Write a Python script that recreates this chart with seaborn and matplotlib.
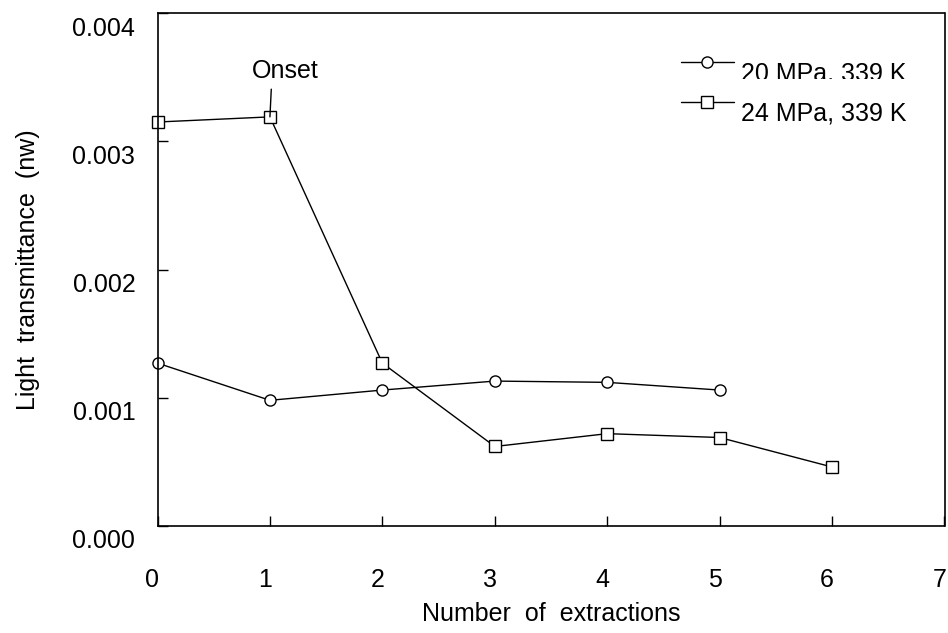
import matplotlib
matplotlib.use("Agg")
import matplotlib.pyplot as plt
import matplotlib.transforms as mtransforms
from matplotlib.patches import Rectangle
import pandas as pd
import seaborn as sns

# Light transmittance after successive extractions
series_names = ["20 MPa, 339 K", "24 MPa, 339 K"]
extractions_20 = [0, 1, 2, 3, 4, 5]
transmittance_20 = [0.00127, 0.00098, 0.00106, 0.00113, 0.00112, 0.00106]
extractions_24 = [0, 1, 2, 3, 4, 5, 6]
transmittance_24 = [0.00315, 0.00319, 0.00127, 0.00062, 0.00072, 0.00069, 0.00046]
onset_index = 1

x_ticks = [0, 1, 2, 3, 4, 5, 6, 7]
y_ticks = [0.000, 0.001, 0.002, 0.003, 0.004]
y_tick_labels = ["0.000", "0.001", "0.002", "0.003", "0.004"]

sns.set_style("white")
plt.rcParams["font.family"] = ["Liberation Sans", "DejaVu Sans"]
plt.rcParams["text.color"] = "black"

df = pd.DataFrame({
    "extractions": extractions_20 + extractions_24,
    "transmittance": transmittance_20 + transmittance_24,
    "condition": [series_names[0]] * len(extractions_20)
    + [series_names[1]] * len(extractions_24),
})

W, H = 948, 633
fig = plt.figure(figsize=(W / 100, H / 100), dpi=100)
left, right, top, bottom = 157.5, 944.5, 13, 526
ax = fig.add_axes([left / W, 1 - bottom / H, (right - left) / W, (bottom - top) / H])

sns.lineplot(
    data=df, x="extractions", y="transmittance",
    hue="condition", style="condition",
    palette=["black", "black"], markers=["o", "s"], dashes=False,
    markersize=8, markerfacecolor="white", markeredgecolor="black",
    markeredgewidth=1.0, linewidth=1.0, legend=False, ax=ax, clip_on=False,
)

ax.set_xlim(0, 7)
ax.set_ylim(0, 0.004)
ax.set_xticks(x_ticks)
ax.set_xticklabels([str(v) for v in x_ticks])
ax.set_yticks(y_ticks)
ax.set_yticklabels(y_tick_labels)
ax.tick_params(direction="in", length=7, width=1.0, color="black",
               labelsize=18, labelcolor="black",
               bottom=True, left=True, top=False, right=False)
ax.tick_params(axis="x", pad=30)
ax.tick_params(axis="y", pad=16)

for lbl in ax.get_yticklabels():
    lbl.set_transform(lbl.get_transform()
                      + mtransforms.ScaledTranslation(0, -0.13, fig.dpi_scale_trans))
for lbl in ax.get_xticklabels():
    lbl.set_transform(lbl.get_transform()
                      + mtransforms.ScaledTranslation(-0.05, 0, fig.dpi_scale_trans))

for sp in ax.spines.values():
    sp.set_visible(True)
    sp.set_color("black")
    sp.set_linewidth(1.2)

ax.set_xlabel("Number  of  extractions", fontsize=18, color="black")
ax.set_ylabel("Light  transmittance  (nw)", fontsize=18, color="black")
ax.xaxis.set_label_coords(0.5, (bottom - 602) / (bottom - top))
ax.yaxis.set_label_coords((28 - left) / (right - left), 0.5)
ax.yaxis.label.set_va("center")

# legend
handles = ax.get_lines()[:2]
leg = ax.legend(handles, series_names, loc="upper left",
                bbox_to_anchor=((681 - left) / (right - left), (bottom - 52) / (bottom - top)),
                frameon=False, fontsize=18, handlelength=2.1, handletextpad=0.3,
                labelspacing=0.62, borderpad=0, borderaxespad=0)
for t in leg.get_texts():
    t.set_color("black")
    t.set_transform(t.get_transform()
                    + mtransforms.ScaledTranslation(0, -0.10, fig.dpi_scale_trans))

# white band over the lower part of the first legend label
fig.add_artist(Rectangle((738 / W, 1 - 95 / H), (942 - 738) / W, (95 - 79) / H,
                         transform=fig.transFigure, facecolor="white",
                         edgecolor="none", zorder=10))

# onset marker
ax.annotate(
    "Onset",
    xy=(extractions_24[onset_index], transmittance_24[onset_index]),
    xytext=(10.8, 27.9), textcoords="offset points",
    ha="center", va="baseline", fontsize=18, color="black",
    arrowprops=dict(arrowstyle="-", color="black", lw=1.0,
                    relpos=(0.3, 0), shrinkA=2, shrinkB=0),
)

fig.savefig("out.png", dpi=100, facecolor="white")
